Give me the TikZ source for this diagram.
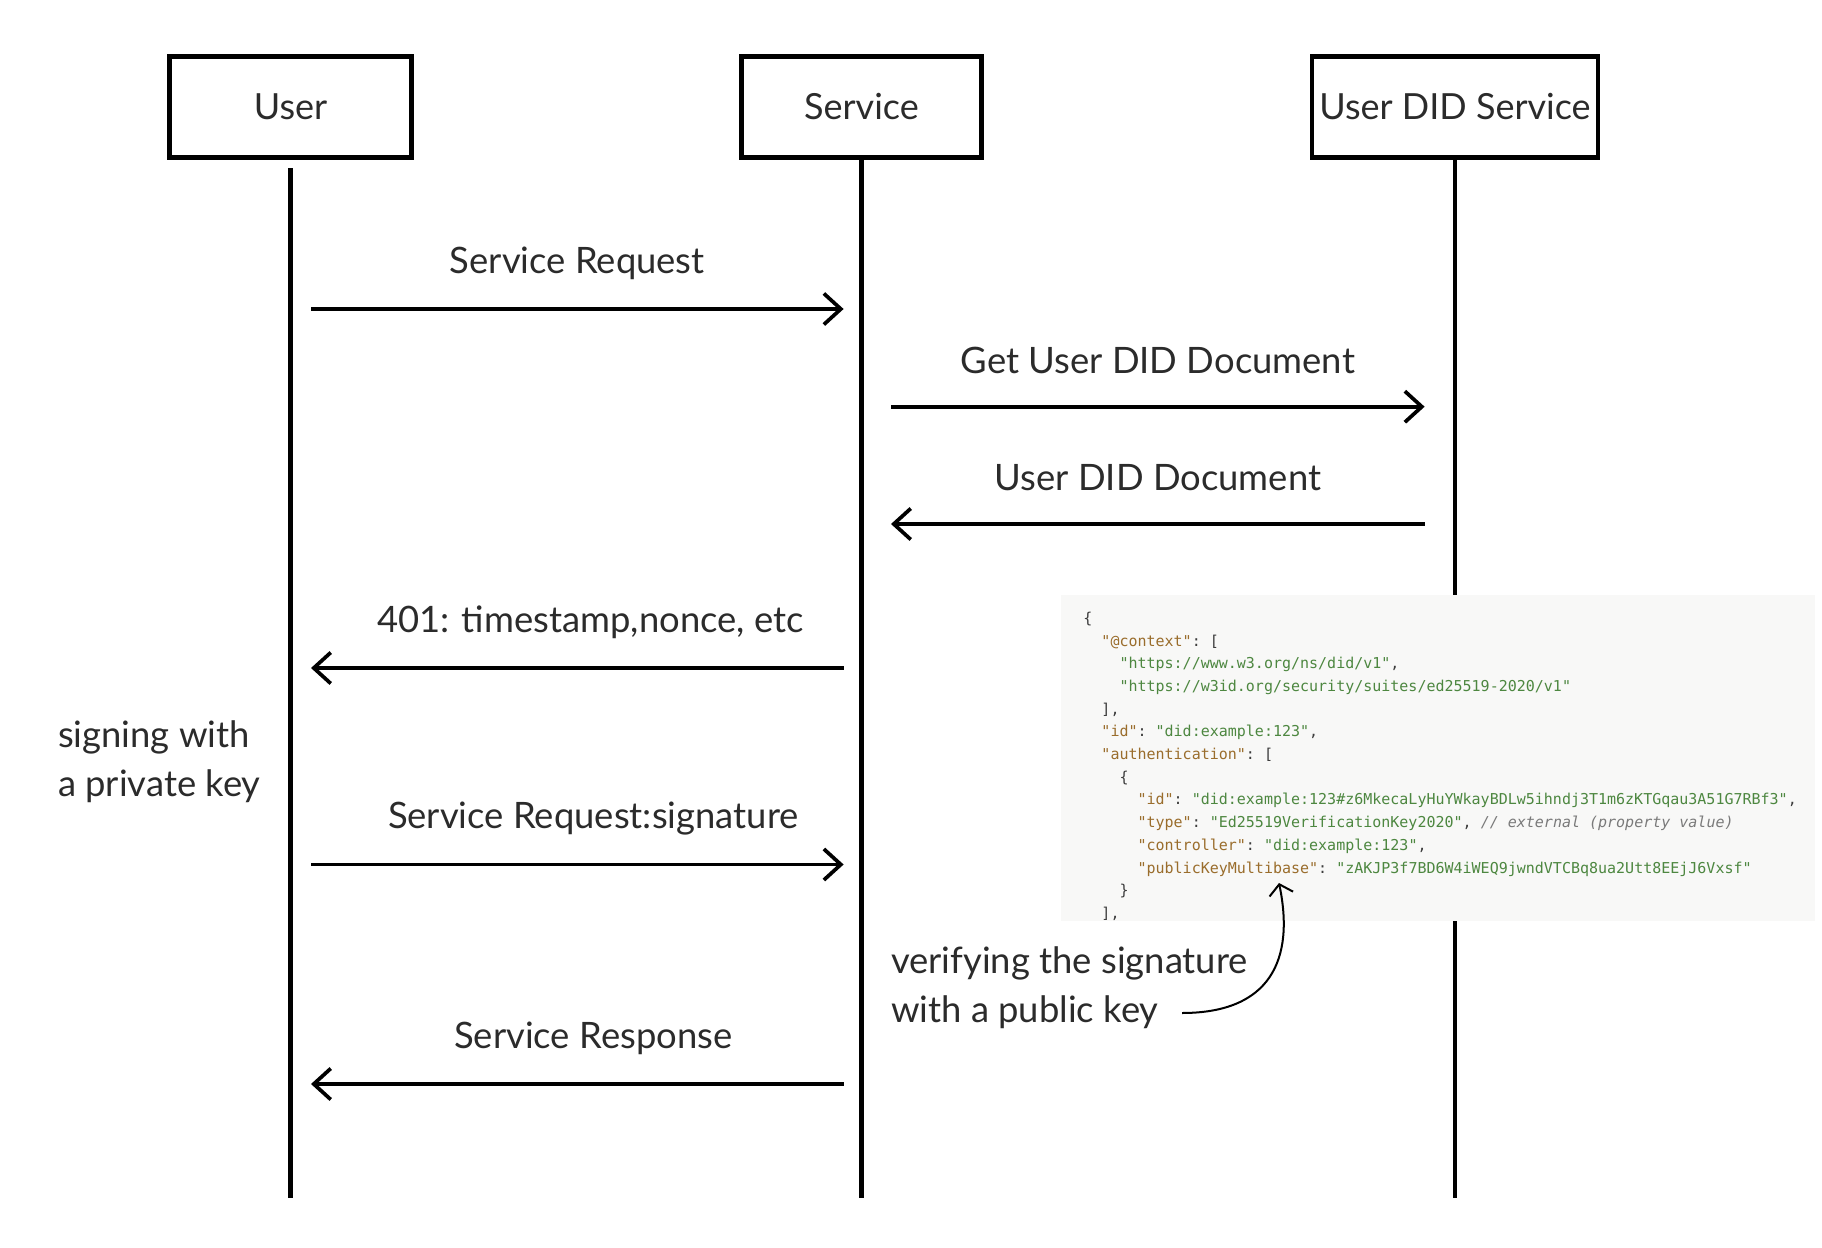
\documentclass[tikz,border=0pt]{standalone}
\usepackage{fontspec}
\usepackage{xcolor}
\usepackage{tikz}
\usetikzlibrary{arrows.meta,positioning}
\setmainfont{Lato}
\setmonofont{DejaVu Sans Mono}
\definecolor{ink}{HTML}{2B2B2B}
\definecolor{codebg}{HTML}{F8F8F7}
\definecolor{jsonkey}{HTML}{9A6D2C}
\definecolor{jsonstr}{HTML}{4D8740}
\definecolor{jsonpun}{HTML}{3C3C3C}
\definecolor{jsoncom}{HTML}{7A7A7A}
\newcommand{\jk}[1]{\textcolor{jsonkey}{#1}}
\newcommand{\js}[1]{\textcolor{jsonstr}{#1}}
\newcommand{\jc}[1]{\textcolor{jsoncom}{\itshape #1}}
\tikzset{
    actor/.style = {rectangle, draw=black, line width=2.3pt, minimum height=50.7pt, text=ink, font=\fontsize{18}{22}\selectfont},
    lifeline/.style = {line width=2.3pt},
    msg/.style = {line width=1.85pt, -{Straight Barb[length=8.5pt, width=15.5pt]}},
    msglabel/.style = {midway, yshift=23pt, text=ink, font=\fontsize{18.2}{21}\selectfont},
    note/.style = {align=left, anchor=west, text=ink, font=\fontsize{18.2}{24.5}\selectfont},
    codebox/.style = {align=left, anchor=north west, inner sep=0pt, text=jsonpun, font=\ttfamily\fontsize{7.5}{11.35}\selectfont},
    pointer/.style = {line width=1pt, -{Straight Barb[length=5pt, width=12pt]}}
}
\begin{document}
\begin{tikzpicture}[x=0.5pt, y=-0.5pt]
\useasboundingbox (0,0) rectangle (1822,1248);

% participants
\node (user) [actor, minimum width=121.2pt] at (290.5,107) {User};
\node (service) [actor, minimum width=120.2pt] at (861.5,107) {Service};
\node (did) [actor, minimum width=143pt] at (1455,107) {User DID Service};

\coordinate (user-end) at (290.5,1198);
\coordinate (service-end) at (861.5,1198);
\coordinate (did-end) at (1455,1198);

\draw [lifeline] ([yshift=-4pt]user.south) -- (user-end);
\draw [lifeline] (service.south) -- (service-end);
\draw [lifeline] (did.south) -- (did-end);

% messages
\coordinate (req-u) at (311,309);
\coordinate (req-s) at (843.6,309);
\coordinate (get-s) at (891,406.7);
\coordinate (get-d) at (1424.6,406.7);
\coordinate (doc-d) at (1424.6,524);
\coordinate (doc-s) at (891,524);
\coordinate (chal-s) at (843.6,668);
\coordinate (chal-u) at (311,668);
\coordinate (sig-u) at (311,864.5);
\coordinate (sig-s) at (843.6,864.5);
\coordinate (resp-s) at (843.6,1084);
\coordinate (resp-u) at (311,1084);

\draw [msg] (req-u) -- (req-s) node [msglabel] {Service Request};
\draw [msg] (get-s) -- (get-d) node [msglabel] {Get User DID Document};
\draw [msg] (doc-d) -- (doc-s) node [msglabel] {User DID Document};
\draw [msg] (chal-s) -- (chal-u) node [msglabel, xshift=6.5pt] {401: timestamp,nonce, etc};
\draw [msg] (sig-u) -- (sig-s) node [msglabel, xshift=8pt] {Service Request:signature};
\draw [msg] (resp-s) -- (resp-u) node [msglabel, xshift=8pt] {Service Response};

\node (signing) [note] at (51,762) {signing with\\a private key};
\node (verify) [note] at (884,988) {verifying the signature\\with a public key};

% DID document excerpt
\fill [codebg] (1061,595) rectangle (1815,921);
\node (json) [codebox] at (1083,611.5) {%
\{\\
~~\jk{"@context"}: [\\
~~~~\js{"https://www.w3.org/ns/did/v1"},\\
~~~~\js{"https://w3id.org/security/suites/ed25519-2020/v1"}\\
~~],\\
~~\jk{"id"}: \js{"did:example:123"},\\
~~\jk{"authentication"}: [\\
~~~~\{\\
~~~~~~\jk{"id"}: \js{"did:example:123\#z6MkecaLyHuYWkayBDLw5ihndj3T1m6zKTGqau3A51G7RBf3"},\\
~~~~~~\jk{"type"}: \js{"Ed25519VerificationKey2020"}, \jc{// external (property value)}\\
~~~~~~\jk{"controller"}: \js{"did:example:123"},\\
~~~~~~\jk{"publicKeyMultibase"}: \js{"zAKJP3f7BD6W4iWEQ9jwndVTCBq8ua2Utt8EEjJ6Vxsf"}\\
~~~~\}\\
~~],};

\coordinate (verify-end) at (1182,1013);
\coordinate (pubkey) at (1279,883);
\draw [pointer] (verify-end) .. controls (1270,1013) and (1295,960) .. (pubkey);
\end{tikzpicture}
\end{document}
